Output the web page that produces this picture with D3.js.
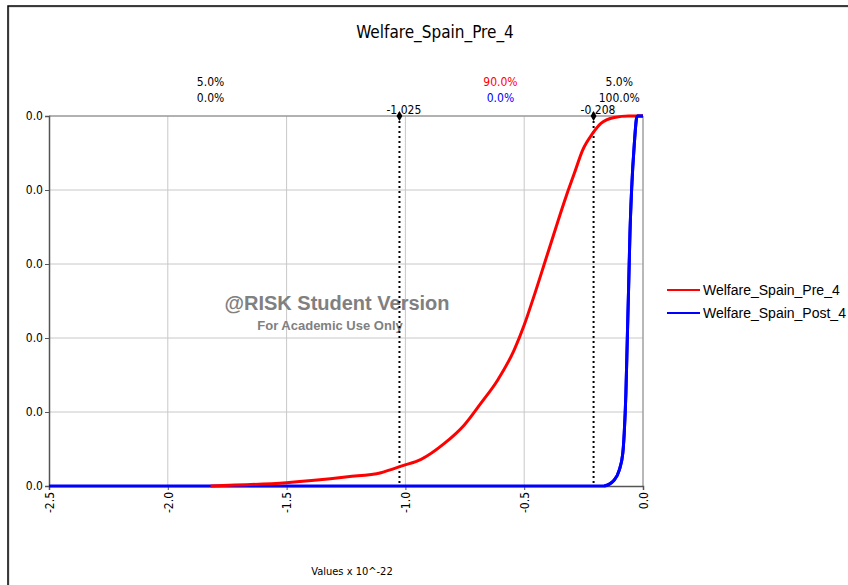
<!DOCTYPE html>
<html>
<head>
<meta charset="utf-8">
<script src="https://cdn.jsdelivr.net/npm/d3@7"></script>
<style>
  body { margin: 0; background: #fff; }
  svg { display: block; }
  .lbl { font-family: "DejaVu Sans Condensed", "Liberation Sans Narrow", sans-serif; }
</style>
</head>
<body>
<svg id="chart" width="848" height="585"></svg>
<script>
// Data (x in units of 10^-22, y cumulative probability)
var preX = [-1.82, -1.501, -1.243, -1.103, -1.011, -0.934, -0.836, -0.752, -0.682, -0.612, -0.542, -0.500, -0.464, -0.401, -0.324, -0.289, -0.254, -0.212, -0.177, -0.121, -0.060, 0.0];
var preP = [0.0, 0.009, 0.025, 0.036, 0.055, 0.072, 0.115, 0.165, 0.224, 0.286, 0.368, 0.435, 0.503, 0.629, 0.782, 0.845, 0.908, 0.953, 0.980, 0.996, 1.0, 1.0];
var postX = [-2.5, -0.163, -0.121, -0.100, -0.085, -0.079, -0.072, -0.066, -0.060, -0.055, -0.048, -0.036, -0.027, -0.024, 0.0];
var postP = [0.0, 0.0, 0.016, 0.043, 0.089, 0.143, 0.25, 0.40, 0.55, 0.68, 0.80, 0.93, 0.995, 1.0, 1.0];

var xTicks = [-2.5, -2.0, -1.5, -1.0, -0.5, 0.0];
var yTicks = [0, 0.2, 0.4, 0.6, 0.8, 1.0];
var yTickLabels = ["0.0", "0.0", "0.0", "0.0", "0.0", "0.0"];

var markers = [-1.025, -0.208];
var markerLabels = ["-1.025", "-0.208"];
var bandCenters = [-1.82, -0.6, -0.1]; // where the region percentages sit
var preBand = ["5.0%", "90.0%", "5.0%"];
var postBand = ["0.0%", "0.0%", "100.0%"];

var seriesNames = ["Welfare_Spain_Pre_4", "Welfare_Spain_Post_4"];
var seriesColors = ["#ff0000", "#0000ff"];

var svg = d3.select("#chart");

// outer frame
svg.append("rect").attr("x", 9).attr("y", 7).attr("width", 900).attr("height", 700)
  .attr("fill", "none").attr("stroke", "#c8c8c8").attr("stroke-width", 1);
svg.append("rect").attr("x", 8).attr("y", 6).attr("width", 900).attr("height", 700)
  .attr("fill", "none").attr("stroke", "#000").attr("stroke-width", 1.5);

var plotLeft = 49, plotRight = 643, plotTop = 116, plotBottom = 486;

var x = d3.scaleLinear().domain([-2.5, 0]).range([plotLeft, plotRight]);
var y = d3.scaleLinear().domain([0, 1]).range([plotBottom, plotTop]);

// gridlines
svg.append("g").selectAll("line").data(xTicks.slice(1, -1)).enter().append("line")
  .attr("x1", d => x(d)).attr("x2", d => x(d)).attr("y1", plotTop).attr("y2", plotBottom)
  .attr("stroke", "#c8c8c8").attr("stroke-width", 1);
svg.append("g").selectAll("line").data(yTicks.slice(1)).enter().append("line")
  .attr("x1", plotLeft).attr("x2", plotRight).attr("y1", d => y(d)).attr("y2", d => y(d))
  .attr("stroke", "#c8c8c8").attr("stroke-width", 1);

// top and right plot borders
svg.append("line").attr("x1", plotLeft).attr("x2", plotRight).attr("y1", plotTop).attr("y2", plotTop)
  .attr("stroke", "#808080");
svg.append("line").attr("x1", plotRight).attr("x2", plotRight).attr("y1", plotTop).attr("y2", plotBottom)
  .attr("stroke", "#a0a0a0").attr("stroke-width", 1.5);

// watermark
svg.append("text").attr("x", 337).attr("y", 310).attr("text-anchor", "middle")
  .style("font-family", "'Liberation Sans', Arial, sans-serif").style("font-weight", "bold")
  .style("font-size", "20px").attr("fill", "#808080").text("@RISK Student Version");
svg.append("text").attr("x", 330).attr("y", 330).attr("text-anchor", "middle")
  .style("font-family", "'Liberation Sans', Arial, sans-serif").style("font-weight", "bold")
  .style("font-size", "13px").attr("fill", "#808080").text("For Academic Use Only");

// marker lines
svg.append("g").selectAll("line").data(markers).enter().append("line")
  .attr("x1", d => x(d)).attr("x2", d => x(d)).attr("y1", plotTop).attr("y2", plotBottom)
  .attr("stroke", "#000").attr("stroke-width", 2).attr("stroke-dasharray", "2,3");

// axes
var yAxis = d3.axisLeft(y).tickValues(yTicks).tickSize(4).tickFormat((d, i) => yTickLabels[i]);
var gy = svg.append("g").attr("transform", "translate(" + plotLeft + ",0)").call(yAxis);
gy.select(".domain").attr("stroke", "#555").attr("stroke-width", 1.5);
gy.selectAll(".tick line").attr("stroke", "#555");
gy.selectAll("text").attr("class", "lbl").style("font-size", "12px").attr("fill", "#000").attr("x", -6);

var xAxis = d3.axisBottom(x).tickValues(xTicks).tickSize(4);
var gx = svg.append("g").attr("transform", "translate(0," + plotBottom + ")").call(xAxis);
gx.select(".domain").attr("stroke", "#555").attr("stroke-width", 1.5);
gx.selectAll(".tick line").attr("stroke", "#555");
gx.selectAll("text").attr("class", "lbl").style("font-size", "12px").attr("fill", "#000")
  .attr("transform", "rotate(-90)").attr("x", -6).attr("y", 0).attr("dy", "0.35em")
  .attr("text-anchor", "end").text(d => d.toFixed(1));

// series
var line = d3.line().x(d => x(d[0])).y(d => y(d[1])).curve(d3.curveMonotoneX);
var preData = d3.zip(preX, preP);
var postData = d3.zip(postX, postP);
svg.append("path").datum(postData).attr("d", line).attr("fill", "none")
  .attr("stroke", seriesColors[1]).attr("stroke-width", 3);
svg.append("path").datum(preData).attr("d", line).attr("fill", "none")
  .attr("stroke", seriesColors[0]).attr("stroke-width", 3);

// blue drawn over red near the top right
svg.append("path").datum(postData.slice(1)).attr("d", line).attr("fill", "none")
  .attr("stroke", seriesColors[1]).attr("stroke-width", 3);

// marker diamonds and labels
svg.append("g").selectAll("path").data(markers).enter().append("path")
  .attr("d", d3.symbol().type(d3.symbolDiamond).size(30))
  .attr("transform", d => "translate(" + x(d) + "," + plotTop + ")").attr("fill", "#000");
svg.append("g").selectAll("text").data(markers).enter().append("text")
  .attr("class", "lbl").attr("x", d => x(d)).attr("y", 114).attr("text-anchor", "start")
  .attr("dx", -13).style("font-size", "12px").text((d, i) => markerLabels[i]);

// band percentages
svg.append("g").selectAll("text").data(bandCenters).enter().append("text")
  .attr("class", "lbl").attr("x", d => x(d)).attr("y", 86).attr("text-anchor", "middle")
  .style("font-size", "12px").attr("fill", (d, i) => i === 1 ? seriesColors[0] : "#000")
  .text((d, i) => preBand[i]);
svg.append("g").selectAll("text").data(bandCenters).enter().append("text")
  .attr("class", "lbl").attr("x", d => x(d)).attr("y", 102).attr("text-anchor", "middle")
  .style("font-size", "12px").attr("fill", (d, i) => i === 1 ? seriesColors[1] : "#000")
  .text((d, i) => postBand[i]);

// title
svg.append("text").attr("class", "lbl").attr("x", 435).attr("y", 38).attr("text-anchor", "middle")
  .style("font-size", "17px").text("Welfare_Spain_Pre_4");

// x axis title
svg.append("text").attr("class", "lbl").attr("x", 352).attr("y", 575).attr("text-anchor", "middle")
  .style("font-size", "11px").text("Values x 10^-22");

// legend
var lg = svg.append("g").selectAll("g").data(seriesNames).enter().append("g")
  .attr("transform", (d, i) => "translate(667," + (290 + i * 23) + ")");
lg.append("line").attr("x1", 0).attr("x2", 33).attr("y1", 0).attr("y2", 0)
  .attr("stroke", (d, i) => seriesColors[i]).attr("stroke-width", 2);
lg.append("text").attr("x", 36).attr("y", 0).attr("dy", "0.35em")
  .style("font-family", "'Liberation Sans', Arial, sans-serif").style("font-size", "14px")
  .text(d => d);
</script>
</body>
</html>
